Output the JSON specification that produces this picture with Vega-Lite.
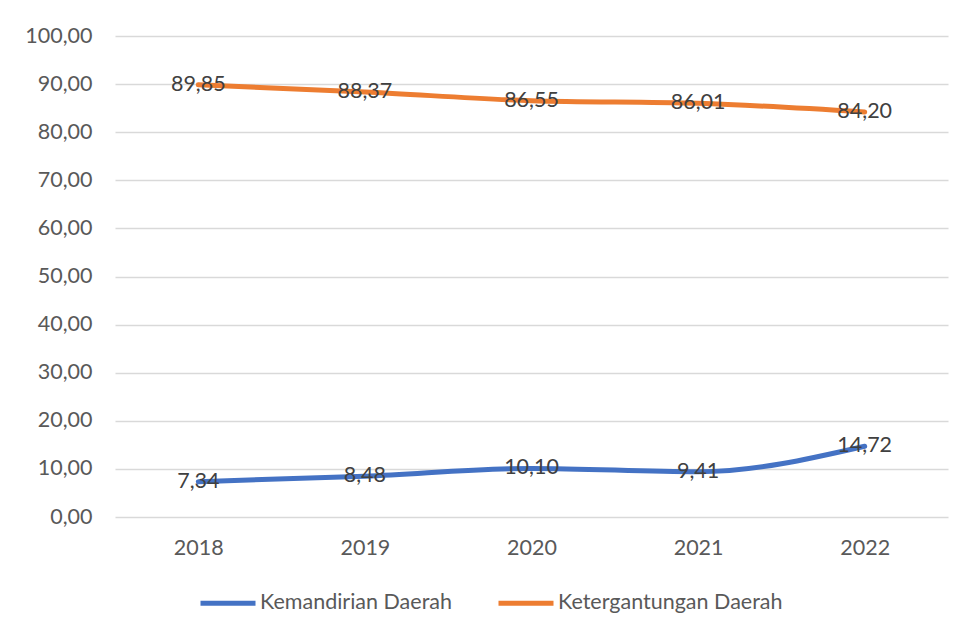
{
  "$schema": "https://vega.github.io/schema/vega-lite/v6.json",
  "width": 833,
  "height": 481,
  "autosize": {"type": "none"},
  "padding": {"left": 115, "top": 36, "right": 26, "bottom": 121},
  "background": "white",
  "config": {
    "locale": {"number": {"decimal": ",", "thousands": ".", "grouping": [3], "currency": ["Rp", ""]}},
    "view": {"stroke": null},
    "font": "Lato"
  },
  "data": {
    "values": [
      {"tahun": "2018", "seri": "Kemandirian Daerah", "nilai": 7.34},
      {"tahun": "2019", "seri": "Kemandirian Daerah", "nilai": 8.48},
      {"tahun": "2020", "seri": "Kemandirian Daerah", "nilai": 10.10},
      {"tahun": "2021", "seri": "Kemandirian Daerah", "nilai": 9.41},
      {"tahun": "2022", "seri": "Kemandirian Daerah", "nilai": 14.72},
      {"tahun": "2018", "seri": "Ketergantungan Daerah", "nilai": 89.85},
      {"tahun": "2019", "seri": "Ketergantungan Daerah", "nilai": 88.37},
      {"tahun": "2020", "seri": "Ketergantungan Daerah", "nilai": 86.55},
      {"tahun": "2021", "seri": "Ketergantungan Daerah", "nilai": 86.01},
      {"tahun": "2022", "seri": "Ketergantungan Daerah", "nilai": 84.20}
    ]
  },
  "encoding": {
    "x": {
      "field": "tahun", "type": "ordinal",
      "scale": {"type": "point", "padding": 0.5},
      "axis": {"title": null, "labelAngle": 0, "domain": false, "ticks": false, "grid": false,
               "labelFontSize": 21.5, "labelColor": "#595959", "labelPadding": 20}
    },
    "y": {
      "field": "nilai", "type": "quantitative",
      "scale": {"domain": [0, 100]},
      "axis": {"title": null, "values": [0,10,20,30,40,50,60,70,80,90,100], "format": ".2f", "labelOverlap": false,
               "domain": false, "ticks": false, "gridColor": "#D9D9D9", "gridWidth": 1.5,
               "labelFontSize": 21.5, "labelColor": "#595959", "labelPadding": 23}
    }
  },
  "layer": [
    {
      "mark": {"type": "line", "interpolate": "monotone", "strokeWidth": 5, "strokeCap": "round"},
      "encoding": {
        "color": {
          "field": "seri", "type": "nominal",
          "scale": {"domain": ["Kemandirian Daerah", "Ketergantungan Daerah"], "range": ["#4472C4", "#ED7D31"]},
          "legend": {
            "title": null, "orient": "none", "direction": "horizontal", "columns": 2,
            "legendX": 83, "legendY": 537,
            "symbolType": "stroke", "symbolSize": 3025, "symbolStrokeWidth": 5,
            "labelFontSize": 21.5, "labelColor": "#595959", "labelOffset": 2, "labelLimit": 400, "columnPadding": 36
          }
        }
      }
    },
    {
      "mark": {"type": "text", "fontSize": 21.5, "color": "#404040"},
      "encoding": {
        "text": {"field": "nilai", "type": "quantitative", "format": ".2f"},
        "detail": {"field": "seri"}
      }
    }
  ]
}
